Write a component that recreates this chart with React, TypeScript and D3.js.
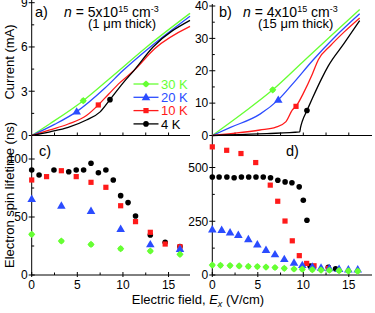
import React from 'react';
import * as d3 from 'd3';

const GREEN = '#66ff33';
const BLUE = '#2b4cff';
const RED = '#ff1a1a';
const BLACK = '#000000';

const legendLabels = ['30 K', '20 K', '10 K', '4 K'];

// Panel a: current (mA) vs electric field (V/cm), n = 5e15, 1 um
const aGreen: [number, number][] = [[0, 0], [2, 0.8], [5.65, 2.36], [9, 4.1], [12.6, 6.0], [17.35, 8.28]];
const aBlue: [number, number][] = [[0, 0], [2.5, 0.75], [4.93, 1.62], [8, 3.2], [10, 4.4], [13, 6.0], [17.35, 8.08]];
const aRed: [number, number][] = [[0, 0], [2, 0.38], [4, 0.78], [6, 1.35], [7.3, 2.07], [8.5, 2.85], [9.7, 3.6], [11.2, 4.4], [13.5, 5.9], [17.35, 7.4]];
const aBlack: [number, number][] = [[0, 0], [2, 0.25], [4, 0.55], [6, 1.05], [7.5, 1.6], [8.58, 2.43], [10, 3.55], [11.2, 4.4], [13.3, 6.0], [17.35, 7.8]];
const aMarks: [number, number][] = [[5.65, 2.36], [4.93, 1.62], [7.3, 2.07], [8.58, 2.43]];

// Panel b: current (mA) vs field, n = 4e15, 15 um
const bGreen: [number, number][] = [[0, 0], [3.3, 6.8], [6.64, 14.1], [10.2, 23.4], [13.2, 31.2], [16.2, 38.9]];
const bBlue: [number, number][] = [[0, 0], [2, 2.5], [5.24, 6.6], [7.25, 11], [9, 16.5], [11.1, 23.4], [13.5, 30.5], [16.2, 37.6]];
const bRed: [number, number][] = [[0, 0], [2.5, 0.7], [5.24, 1.7], [7, 2.6], [8.1, 4.3], [8.8, 7.9], [9.2, 9.0], [10, 13], [11, 19], [11.65, 23.4], [13, 27.8], [14.5, 32], [16.2, 36.3]];
const bBlack: [number, number][] = [[0, 0], [3, 0.3], [6, 0.6], [9.6, 1.1], [9.7, 2.5], [9.9, 4.5], [10.4, 7.7], [11, 11.5], [12, 17.5], [12.75, 21.5], [14.5, 28.5], [16.2, 35.5]];
const bMarks: [number, number][] = [[6.64, 14.1], [7.25, 11.0], [9.2, 9.0], [10.4, 7.7]];

// Panel c: spin lifetime (ns) vs field
const cBlackE = [0, 0.81, 2.44, 4.06, 4.88, 5.69, 6.5, 7.31, 8.13, 8.94, 9.75, 10.56, 11.38, 13, 14.63, 16.25];
const cBlackT = [90.5, 86.2, 90.5, 89, 90.5, 90.5, 96.3, 88.2, 90.5, 81.9, 68.4, 62.4, 50.9, 34.5, 28.2, 24.5];
const cRedE = [0, 1.63, 3.25, 4.88, 6.5, 8.13, 9.75, 11.38, 13, 14.63, 16.25];
const cRedT = [81.9, 84.8, 89.9, 84.8, 79.9, 75.6, 59.7, 46, 36.8, 26.7, 24.4];
const cBlueE = [0, 3.25, 6.5, 9.75, 13, 16.25];
const cBlueT = [65.5, 59.7, 55.2, 39.7, 26.4, 22.4];
const cGreenE = [0, 3.25, 6.5, 9.75, 13, 16.25];
const cGreenT = [35.1, 29.3, 26.4, 22.7, 20.7, 17.8];

// Panel d: spin lifetime (ns) vs field
const dBlackE = [0, 0.75, 1.6, 2.4, 3.2, 4.0, 4.8, 5.6, 6.4, 7.2, 8.0, 8.75, 9.55, 10.0, 10.4, 10.75, 12.75, 13.55];
const dBlackT = [456, 456, 456, 452, 456, 456, 456, 456, 452, 441, 433, 429, 410, 348, 255, 42, 36, 29];
const dRedE = [0, 1.58, 3.15, 4.77, 6.37, 7.19, 7.99, 8.79, 9.56, 10.37, 11.18, 12.75];
const dRedT = [596, 580, 565, 523, 418, 343, 251, 159, 90, 54, 43, 31];
const dBlueE = [0, 1.03, 1.95, 2.86, 3.96, 4.95, 5.9, 6.89, 7.91, 8.98, 9.89, 10.99, 11.95, 12.86, 13.93, 14.95, 15.98];
const dBlueT = [212, 209, 198, 186, 166, 142, 116, 96, 74, 57, 46, 39, 34, 31, 28, 26, 26];
const dGreenE = [0, 0.9, 1.95, 2.95, 3.96, 4.95, 5.9, 6.89, 7.91, 8.98, 9.89, 10.99, 11.95, 12.86, 13.93, 14.95, 15.98];
const dGreenT = [46, 45, 44, 42, 40, 39, 37, 35, 31, 28, 27, 25, 23, 22, 20, 19, 18];

const aYTicks = [0, 3, 6, 9];
const aYMinor = [1.5, 4.5, 7.5];
const bYTicks = [0, 10, 20, 30, 40];
const bYMinor = [5, 15, 25, 35];
const cYTicks = [0, 50, 100];
const cYMinor = [25, 75];
const dYTicks = [0, 250, 500];
const dYMinor = [125, 375];
const xTicks = [0, 5, 10, 15];
const xMinor = [2.5, 7.5, 12.5];
const xAllTop = [2.5, 5, 7.5, 10, 12.5, 15];

const FONT = 'Liberation Sans, Arial, Helvetica, sans-serif';
const colors = [GREEN, BLUE, RED, BLACK];
const shapes = ['diamond', 'triangle', 'square', 'circle'];

function Marker({ shape, x, y, color }: { shape: string; x: number; y: number; color: string }) {
  if (shape === 'circle') return <circle cx={x} cy={y} r={2.8} fill={color} />;
  if (shape === 'square') return <rect x={x - 2.6} y={y - 2.6} width={5.2} height={5.2} fill={color} />;
  if (shape === 'triangle') {
    const p = d3.symbol().type(d3.symbolTriangle).size(32)() as string;
    return <path d={p} transform={`translate(${x},${y + 0.5})`} fill={color} />;
  }
  return (
    <g transform={`translate(${x},${y})`} fill={color}>
      <circle r={2.6} />
      <path d="M0,-3.6L3.6,0L0,3.6L-3.6,0Z" />
    </g>
  );
}

export default function App() {
  const xL = d3.scaleLinear().domain([0, 17.35]).range([31.7, 190]);
  const xR = d3.scaleLinear().domain([0, 17.55]).range([212.3, 372]);
  const yA = d3.scaleLinear().domain([0, 9]).range([135.5, 2.7]);
  const yB = d3.scaleLinear().domain([0, 40]).range([135.5, 6]);
  const yC = d3.scaleLinear().domain([0, 100]).range([275, 159]);
  const yD = d3.scaleLinear().domain([0, 500]).range([275, 167.5]);

  const lineA = d3.line<[number, number]>().x(d => xL(d[0])).y(d => yA(d[1])).curve(d3.curveMonotoneX);
  const lineB = d3.line<[number, number]>().x(d => xR(d[0])).y(d => yB(d[1])).curve(d3.curveMonotoneX);

  const aSeries = [aGreen, aBlue, aRed, aBlack];
  const bSeries = [bGreen, bBlue, bRed, bBlack];
  const cSeries = [[cGreenE, cGreenT], [cBlueE, cBlueT], [cRedE, cRedT], [cBlackE, cBlackT]];
  const dSeries = [[dGreenE, dGreenT], [dBlueE, dBlueT], [dRedE, dRedT], [dBlackE, dBlackT]];

  const yAxis = (x0: number, y: d3.ScaleLinear<number, number>, ticks: number[], minor: number[], key: string) => (
    <g key={key}>
      {ticks.map(t => (
        <g key={t}>
          <line x1={x0 - 3} x2={x0 + 3} y1={y(t)} y2={y(t)} stroke="#000" strokeWidth={1} />
          <text x={x0 - 4} y={y(t)} dy="0.36em" textAnchor="end" fontSize={12}>{t}</text>
        </g>
      ))}
      {minor.map(t => (
        <line key={'m' + t} x1={x0} x2={x0 + 2.5} y1={y(t)} y2={y(t)} stroke="#000" strokeWidth={1} />
      ))}
    </g>
  );

  const xAxisTop = (x: d3.ScaleLinear<number, number>, y0: number, key: string) => (
    <g key={key}>
      {xAllTop.map(t => (
        <line key={t} x1={x(t)} x2={x(t)} y1={y0} y2={y0 - 3} stroke="#000" strokeWidth={1} />
      ))}
    </g>
  );

  const xAxisBottom = (x: d3.ScaleLinear<number, number>, y0: number, key: string) => (
    <g key={key}>
      {xTicks.map(t => (
        <g key={t}>
          <line x1={x(t)} x2={x(t)} y1={y0 - 3} y2={y0 + 2} stroke="#000" strokeWidth={1} />
          <text x={x(t)} y={y0 + 14} textAnchor="middle" fontSize={12}>{t}</text>
        </g>
      ))}
      {xMinor.map(t => (
        <line key={'m' + t} x1={x(t)} x2={x(t)} y1={y0} y2={y0 - 2.5} stroke="#000" strokeWidth={1} />
      ))}
    </g>
  );

  return (
    <svg width={375} height={313} style={{ position: 'absolute', left: 0, top: 0, background: '#fff' }} fontFamily={FONT}>
      <defs>
        <clipPath id="clipA"><rect x={31} y={0} width={160} height={136} /></clipPath>
      </defs>
      <rect width={375} height={313} fill="#fff" />
      <line x1={xL(0)} x2={xL(0)} y1={0} y2={275} stroke="#000" strokeWidth={1} />
      <line x1={xR(0)} x2={xR(0)} y1={4} y2={275} stroke="#000" strokeWidth={1} />
      <line x1={xL(0)} x2={190} y1={135.5} y2={135.5} stroke="#000" strokeWidth={1} />
      <line x1={xR(0)} x2={372} y1={135.5} y2={135.5} stroke="#000" strokeWidth={1} />
      <line x1={xL(0)} x2={190} y1={275} y2={275} stroke="#000" strokeWidth={1} />
      <line x1={xR(0)} x2={372} y1={275} y2={275} stroke="#000" strokeWidth={1} />

      {yAxis(xL(0), yA, aYTicks, aYMinor, 'ya')}
      {yAxis(xR(0), yB, bYTicks, bYMinor, 'yb')}
      {yAxis(xL(0), yC, cYTicks, cYMinor, 'yc')}
      {yAxis(xR(0), yD, dYTicks, dYMinor, 'yd')}
      {xAxisTop(xL, 135.5, 'xa')}
      {xAxisTop(xR, 135.5, 'xb')}
      {xAxisBottom(xL, 275, 'xc')}
      {xAxisBottom(xR, 275, 'xd')}

      <g clipPath="url(#clipA)">
        {aSeries.map((s, i) => (
          <path key={i} d={lineA(s) as string} fill="none" stroke={colors[i]} strokeWidth={1.3} />
        ))}
      </g>
      {aMarks.map((m, i) => <Marker key={i} shape={shapes[i]} x={xL(m[0])} y={yA(m[1])} color={colors[i]} />)}

      {bSeries.map((s, i) => (
        <path key={i} d={lineB(s) as string} fill="none" stroke={colors[i]} strokeWidth={1.3} />
      ))}
      {bMarks.map((m, i) => <Marker key={i} shape={shapes[i]} x={xR(m[0])} y={yB(m[1])} color={colors[i]} />)}

      {cSeries.map((s, i) => (
        <g key={i}>
          {s[0].map((e, j) => <Marker key={j} shape={shapes[i]} x={xL(e)} y={yC(s[1][j])} color={colors[i]} />)}
        </g>
      )).reverse()}
      {dSeries.map((s, i) => (
        <g key={i}>
          {s[0].map((e, j) => <Marker key={j} shape={shapes[i]} x={xR(e)} y={yD(s[1][j])} color={colors[i]} />)}
        </g>
      )).reverse()}

      {legendLabels.map((lab, i) => {
        const ly = 84 + i * 13.3;
        return (
          <g key={lab}>
            <line x1={133.5} x2={158.5} y1={ly} y2={ly} stroke={colors[i]} strokeWidth={1.3} />
            <Marker shape={shapes[i]} x={146} y={ly} color={colors[i]} />
            <text x={161} y={ly} dy="0.36em" fontSize={13} fill={colors[i]}>{lab}</text>
          </g>
        );
      })}

      <text x={35} y={16.5} fontSize={14.5}>a)</text>
      <text x={64} y={16.5} fontSize={14}>
        <tspan fontStyle="italic">n</tspan> = 5x10<tspan dy={-5} fontSize={9}>15</tspan><tspan dy={5}> cm</tspan><tspan dy={-5} fontSize={9}>-3</tspan>
      </text>
      <text x={88} y={28} fontSize={13}>(1 μm thick)</text>

      <text x={219} y={16.5} fontSize={14.5}>b)</text>
      <text x={243} y={16.5} fontSize={14}>
        <tspan fontStyle="italic">n</tspan> = 4x10<tspan dy={-5} fontSize={9}>15</tspan><tspan dy={5}> cm</tspan><tspan dy={-5} fontSize={9}>-3</tspan>
      </text>
      <text x={258} y={28} fontSize={13}>(15 μm thick)</text>

      <text x={39} y={156} fontSize={14.5}>c)</text>
      <text x={286} y={156} fontSize={14.5}>d)</text>

      <text transform="translate(14,62) rotate(-90)" textAnchor="middle" fontSize={13}>Current (mA)</text>
      <text transform="translate(14,195) rotate(-90)" textAnchor="middle" fontSize={13}>Electron spin lifetime (ns)</text>
      <text x={198} y={304} textAnchor="middle" fontSize={13}>
        Electric field, <tspan fontStyle="italic">E</tspan><tspan fontStyle="italic" dy={3} fontSize={9}>x</tspan><tspan dy={-3}> (V/cm)</tspan>
      </text>
    </svg>
  );
}
